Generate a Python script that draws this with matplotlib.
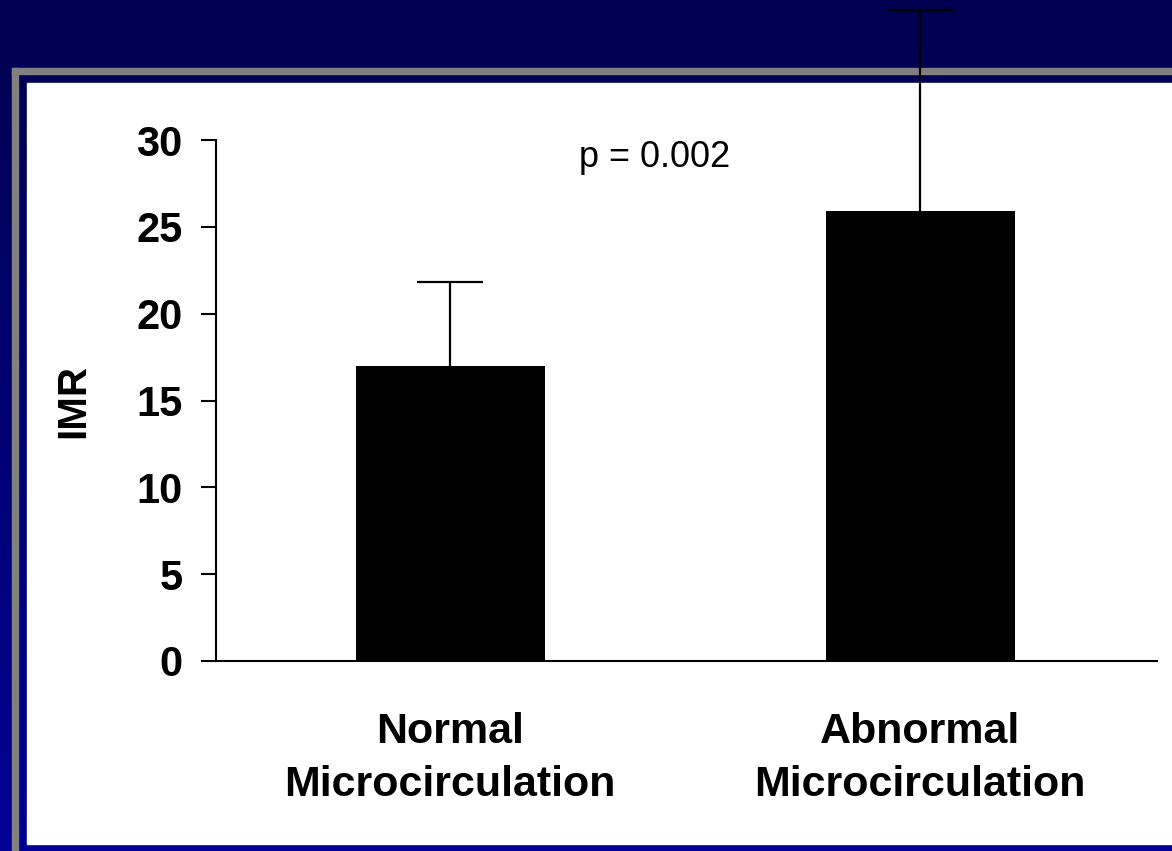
import numpy as np
import matplotlib
matplotlib.use("Agg")
import matplotlib.pyplot as plt
from matplotlib.patches import Rectangle

plt.rcParams['font.family'] = ['Liberation Sans', 'DejaVu Sans']

# data
groups = ["Normal\nMicrocirculation", "Abnormal\nMicrocirculation"]
imr_mean = [17.0, 25.9]
imr_sd_upper = [4.8, 11.6]
yticks = [0, 5, 10, 15, 20, 25, 30]
p_text = "p = 0.002"

W, H = 1172, 851
fig = plt.figure(figsize=(W / 100, H / 100), dpi=100)

# slide background: navy gradient, grey frame, white panel
bg = fig.add_axes([0, 0, 1, 1])
bg.set_xlim(0, W)
bg.set_ylim(H, 0)
bg.axis("off")
grad = np.linspace(0, 1, 256).reshape(-1, 1)
top = np.array([0, 0, 80]) / 255
bottom = np.array([0, 0, 150]) / 255
img = top + grad[..., None] * (bottom - top)
bg.imshow(img, extent=[0, W, H, 0], aspect="auto", zorder=0)
bg.add_patch(Rectangle((12, 68), 6, H - 68, color="#808080", zorder=1))
bg.add_patch(Rectangle((12, 68), W - 12, 6, color="#808080", zorder=1))
bg.add_patch(Rectangle((27, 83), W - 27, 844 - 83, color="white", zorder=2))

# chart area
left, right, ytop, ybot = 216, 1157, 140, 661
ax = fig.add_axes([left / W, (H - ybot) / H, (right - left) / W, (ybot - ytop) / H])
ax.set_facecolor("none")

x = np.arange(len(groups))
ax.bar(x, imr_mean, width=0.402, color="black", zorder=2)
eb = ax.errorbar(x, imr_mean, yerr=[np.zeros(len(x)), imr_sd_upper], fmt="none",
                 ecolor="black", elinewidth=1.6, capsize=23.5, capthick=1.6, zorder=3)
data_line, caplines, barcols = eb.lines
caplines[0].set_visible(False)  # only the upper cap is shown
for a in list(caplines) + list(barcols):
    a.set_clip_on(False)

ax.set_xlim(-0.498, 1.504)
ax.set_ylim(0, 30)
ax.set_yticks(yticks)
ax.set_yticklabels([str(t) for t in yticks], fontsize=30, fontweight="bold")
ax.set_xticks(x)
ax.set_xticklabels(groups, fontsize=31, fontweight="bold", linespacing=1.42)
ax.tick_params(axis="x", length=0, pad=37)
ax.tick_params(axis="y", length=11, width=1.5, pad=13)

for s in ["top", "right"]:
    ax.spines[s].set_visible(False)
for s in ["left", "bottom"]:
    ax.spines[s].set_linewidth(1.5)

ax.set_ylabel("IMR", fontsize=29, fontweight="bold", labelpad=32)
ax.text(0.274, 29.0, p_text, fontsize=26, va="center", ha="left")

fig.savefig("out.png", dpi=100)
